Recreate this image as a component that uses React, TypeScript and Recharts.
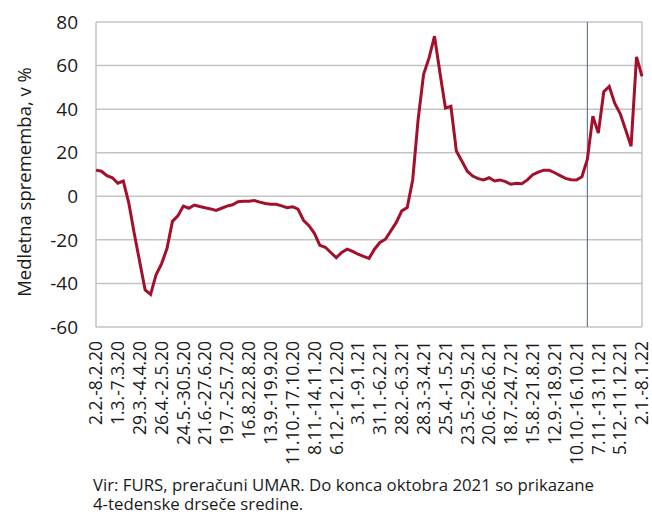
import { LineChart, Line, XAxis, YAxis, CartesianGrid, ReferenceLine, Label } from 'recharts';

// weekly y/y change, 2.2.-8.2.20 ... 2.1.-8.1.22 (101 weeks)
const changes = [
  12, 11.5, 9.5, 8.5, 6, 7, -3, -17, -30, -43,
  -45, -36, -31, -24, -11.5, -9, -4.5, -5.5, -4, -4.7,
  -5.3, -5.8, -6.5, -5.5, -4.5, -3.9, -2.5, -2.3, -2.3, -1.9,
  -2.7, -3.3, -3.6, -3.7, -4.4, -5.2, -4.8, -5.9, -11, -13.5,
  -17, -22.5, -23.4, -25.8, -28.2, -25.8, -24.3, -25.3, -26.6, -27.6,
  -28.5, -24.3, -21.2, -19.7, -15.9, -12, -6.7, -5.2, 7.5, 35.3,
  56, 63.5, 73.5, 56.6, 40.5, 41.3, 20.8, 16.2, 11.5, 9.3,
  8.1, 7.5, 8.5, 7, 7.5, 6.7, 5.5, 6, 5.8, 7.5,
  9.9, 11.1, 12, 12, 10.8, 9.5, 8.2, 7.6, 7.5, 9,
  17, 36.8, 29, 48, 50.4, 42.7, 38, 30.5, 23, 64,
  55,
];

// every 4th week is labelled
const tickLabels = [
  '2.2.-8.2.20', '1.3.-7.3.20', '29.3.-4.4.20', '26.4.-2.5.20', '24.5.-30.5.20',
  '21.6.-27.6.20', '19.7.-25.7.20', '16.8.22.8.20', '13.9.-19.9.20', '11.10.-17.10.20',
  '8.11.-14.11.20', '6.12.-12.12.20', '3.1.-9.1.21', '31.1.-6.2.21', '28.2.-6.3.21',
  '28.3.-3.4.21', '25.4.-1.5.21', '23.5.-29.5.21', '20.6.-26.6.21', '18.7.-24.7.21',
  '15.8.-21.8.21', '12.9.-18.9.21', '10.10.-16.10.21', '7.11.-13.11.21', '5.12.-11.12.21',
  '2.1.-8.1.22',
];

const yTicks = [-60, -40, -20, 0, 20, 40, 60, 80];
const lastAverageWeek = 90; // end of October 2021

const data = changes.map((value, week) => ({ week, value }));

const FONT = '"Open Sans", sans-serif';
const GRID = '#c3c3c3';

function WeekTick({ x, y, payload }: any) {
  const label = tickLabels[payload.value / 4] ?? '';
  return (
    <text
      x={x}
      y={y}
      transform={`rotate(-90, ${x}, ${y})`}
      textAnchor="end"
      dy="0.36em"
      fontSize={17.5}
      fontFamily={FONT}
      fill="#1a1a1a"
    >
      {label}
    </text>
  );
}

export default function App() {
  return (
    <div style={{ position: 'absolute', left: 0, top: 0, width: 652, height: 516, background: '#fff' }}>
      <LineChart width={652} height={470} data={data} margin={{ top: 22, right: 10, left: 0, bottom: 0 }}>
        <CartesianGrid vertical={false} stroke={GRID} strokeWidth={1.5} />
        <XAxis
          dataKey="week"
          type="category"
          interval={3}
          axisLine={false}
          tickLine={false}
          tickSize={0}
          tickMargin={14}
          height={143}
          tick={<WeekTick />}
        />
        <YAxis
          domain={[-60, 80]}
          ticks={yTicks}
          width={96}
          axisLine={false}
          tickLine={false}
          tickSize={0}
          tickMargin={18}
          tick={{ fontSize: 19, fontFamily: FONT, fill: '#1a1a1a' }}
        >
          <Label
            content={() => (
              <text
                x={31}
                y={182}
                transform="rotate(-90, 31, 182)"
                textAnchor="middle"
                fontSize={18.5}
                fontFamily={FONT}
                fill="#1a1a1a"
              >
                Medletna sprememba, v %
              </text>
            )}
          />
        </YAxis>
        <ReferenceLine x={0} stroke={GRID} strokeWidth={1.5} />
        <ReferenceLine x={changes.length - 1} stroke={GRID} strokeWidth={1.5} />
        <ReferenceLine x={lastAverageWeek} stroke="#6a7b96" strokeWidth={1.2} />
        <Line
          type="linear"
          dataKey="value"
          stroke="#a3102c"
          strokeWidth={3}
          dot={false}
          isAnimationActive={false}
        />
      </LineChart>
      <div
        style={{
          position: 'absolute',
          left: 93,
          top: 476,
          fontFamily: FONT,
          fontSize: 16.8,
          lineHeight: '18.5px',
          color: '#1a1a1a',
          whiteSpace: 'nowrap',
        }}
      >
        Vir: FURS, preračuni UMAR. Do konca oktobra 2021 so prikazane
        <br />
        4-tedenske drseče sredine.
      </div>
    </div>
  );
}
